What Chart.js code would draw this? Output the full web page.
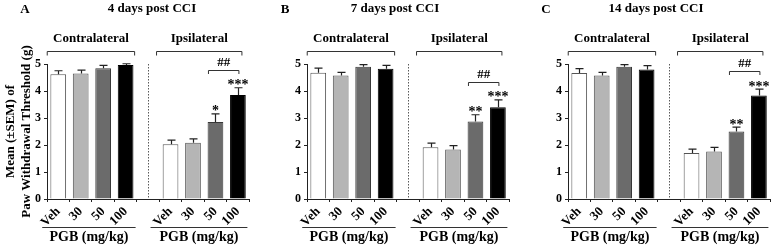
<!DOCTYPE html>
<html><head><meta charset="utf-8">
<script src="https://cdn.jsdelivr.net/npm/chart.js@4.4.0/dist/chart.umd.min.js"></script>
<style>
html,body{margin:0;padding:0;background:#fff;overflow:hidden;width:772px;height:247px;}
.panel{position:absolute;top:0;width:251px;height:247px;}
canvas{display:block;}
</style></head><body>
<div class="panel" style="left:0px"><canvas id="cA" width="251" height="247"></canvas></div>
<div class="panel" style="left:260px"><canvas id="cB" width="251" height="247"></canvas></div>
<div class="panel" style="left:521px"><canvas id="cC" width="251" height="247"></canvas></div>
<script>
// ---------- data ----------
const doses = ['Veh', '30', '50', '100'];
const groupLabels = ['Contralateral', 'Ipsilateral'];
const xAxisTitle = 'PGB (mg/kg)';
const yAxisTitle = ['Mean (\u00B1SEM) of', 'Paw Withdrawal Threshold (g)'];
const yTicks = [0, 1, 2, 3, 4, 5];
const panelLetters = ['A', 'B', 'C'];
const panelTitles = ['4 days post CCI', '7 days post CCI', '14 days post CCI'];
const hashLabel = '##';

const day4ContraMean = [4.62, 4.65, 4.84, 4.96];
const day4ContraSem  = [0.13, 0.12, 0.11, 0.05];
const day4IpsiMean   = [2.03, 2.08, 2.85, 3.85];
const day4IpsiSem    = [0.15, 0.15, 0.30, 0.27];
const day4IpsiStars  = ['', '', '*', '***'];

const day7ContraMean = [4.68, 4.57, 4.90, 4.82];
const day7ContraSem  = [0.17, 0.12, 0.08, 0.13];
const day7IpsiMean   = [1.92, 1.83, 2.87, 3.40];
const day7IpsiSem    = [0.15, 0.15, 0.25, 0.27];
const day7IpsiStars  = ['', '', '**', '***'];

const day14ContraMean = [4.67, 4.57, 4.90, 4.80];
const day14ContraSem  = [0.16, 0.12, 0.08, 0.14];
const day14IpsiMean   = [1.70, 1.76, 2.50, 3.83];
const day14IpsiSem    = [0.15, 0.15, 0.16, 0.24];
const day14IpsiStars  = ['', '', '**', '***'];

// ---------- styling ----------
const FONT = '"Liberation Serif", "Times New Roman", serif';
const barFill = ['#ffffff', '#b5b5b5', '#6b6b6b', '#000000'];
const barEdge = ['#555555', '#555555', '#383838', '#000000'];

const decor = {
  id: 'decor',
  afterDraw(chart) {
    const o = chart.options.plugins.decor;
    const ctx = chart.ctx, xs = chart.scales.x, ys = chart.scales.y, a = chart.chartArea;
    const ds = chart.data.datasets[0];
    const X = i => xs.getPixelForValue(i);
    ctx.save();
    // separator
    const xm = Math.round(X(4)) + 0.5;
    ctx.strokeStyle = '#5a5a5a'; ctx.lineWidth = 1; ctx.setLineDash([1.5, 1.5]);
    ctx.beginPath(); ctx.moveTo(xm, a.top); ctx.lineTo(xm, a.bottom); ctx.stroke();
    ctx.setLineDash([]);
    // error bars and stars
    const meta = chart.getDatasetMeta(0);
    const tops = [];
    meta.data.forEach((bar, i) => {
      const v = ds.data[i];
      if (v == null) return;
      const top = ys.getPixelForValue(v + ds.sem[i]);
      tops[i] = top;
      const x = Math.round(bar.x) + 0.5;
      ctx.strokeStyle = '#222'; ctx.lineWidth = 1.2;
      ctx.beginPath();
      ctx.moveTo(x, bar.y); ctx.lineTo(x, top);
      ctx.moveTo(x - 4, top); ctx.lineTo(x + 4, top);
      ctx.stroke();
      if (ds.stars[i]) {
        ctx.fillStyle = '#000'; ctx.font = 'bold 14px ' + FONT;
        ctx.textAlign = 'center'; ctx.textBaseline = 'alphabetic';
        ctx.fillText(ds.stars[i], bar.x, top + 1.5);
      }
    });
    // ## bracket between 50 and 100 (ipsilateral)
    const by = Math.round(tops[8] - 18) + 0.5;
    const bx1 = X(7) - 7, bx2 = X(8) + 1;
    ctx.strokeStyle = '#333'; ctx.lineWidth = 1;
    ctx.beginPath();
    ctx.moveTo(bx1, by + 3.5); ctx.lineTo(bx1, by); ctx.lineTo(bx2, by); ctx.lineTo(bx2, by + 3.5);
    ctx.stroke();
    ctx.fillStyle = '#000'; ctx.font = 'bold 13px ' + FONT;
    ctx.textAlign = 'center'; ctx.textBaseline = 'middle';
    ctx.fillText(hashLabel, (bx1 + bx2) / 2, by - 8);
    // group brackets above
    const gy = Math.round(a.top - 13) + 0.5;
    const groups = [[X(0) - 11, X(3) + 9], [X(5) - 14, X(8) + 4]];
    groups.forEach((g, k) => {
      ctx.strokeStyle = '#333'; ctx.lineWidth = 1;
      ctx.beginPath();
      ctx.moveTo(g[0], gy + 4); ctx.lineTo(g[0], gy); ctx.lineTo(g[1], gy); ctx.lineTo(g[1], gy + 4);
      ctx.stroke();
      ctx.fillStyle = '#000'; ctx.font = 'bold 13px ' + FONT;
      ctx.textAlign = 'center'; ctx.textBaseline = 'middle';
      ctx.fillText(groupLabels[k], (g[0] + g[1]) / 2, a.top - 25);
    });
    // x-axis group titles with underline
    const uy = Math.round(a.bottom + 27.5) + 0.5;
    const unders = [[X(0) - 16, X(3) + 10], [X(5) - 20, X(8) + 9.5]];
    unders.forEach(u => {
      ctx.strokeStyle = '#333'; ctx.lineWidth = 1;
      ctx.beginPath(); ctx.moveTo(u[0], uy); ctx.lineTo(u[1], uy); ctx.stroke();
      ctx.fillStyle = '#000'; ctx.font = 'bold 14px ' + FONT;
      ctx.textAlign = 'center'; ctx.textBaseline = 'middle';
      ctx.fillText(xAxisTitle, (u[0] + u[1]) / 2, a.bottom + 38.5);
    });
    // panel letter and title
    ctx.fillStyle = '#000';
    ctx.font = 'bold 13px ' + FONT; ctx.textAlign = 'center'; ctx.textBaseline = 'middle';
    ctx.fillText(o.letter, a.left - 22, 10);
    ctx.fillText(o.title, a.left + o.titleOffset, 9);
    ctx.restore();
  }
};

function makePanel(id, idx, cMean, cSem, iMean, iSem, iStars, showYTitle, titleOffset) {
  const labels = [...doses, '', ...doses];
  const data = [...cMean, null, ...iMean];
  const sem = [...cSem, null, ...iSem];
  const stars = ['', '', '', '', '', ...iStars];
  const bg = [...barFill, '#fff', ...barFill];
  const bd = [...barEdge, '#fff', ...barEdge];
  new Chart(document.getElementById(id), {
    type: 'bar',
    data: {
      labels,
      datasets: [{ data, sem, stars, backgroundColor: bg, borderColor: bd, borderWidth: 1,
        barPercentage: 0.7, categoryPercentage: 1.0 }]
    },
    options: {
      responsive: false, animation: false, devicePixelRatio: 1,
      layout: { padding: { top: 64, right: 1, left: 0, bottom: 0 } },
      plugins: {
        legend: { display: false }, tooltip: { enabled: false }, title: { display: false },
        decor: { letter: panelLetters[idx], title: panelTitles[idx], titleOffset }
      },
      scales: {
        x: {
          type: 'category',
          offset: true,
          grid: { display: true, drawOnChartArea: false, drawTicks: true, tickLength: 3, color: '#222', tickWidth: 1 },
          border: { display: true, color: '#222', width: 1 },
          ticks: { autoSkip: false, minRotation: 45, maxRotation: 45, padding: 2, color: '#000',
            font: { family: FONT, size: 13, weight: 'bold' } },
          afterFit: s => { s.height = 48; }
        },
        y: {
          min: 0, max: 5,
          afterBuildTicks: s => { s.ticks = yTicks.map(v => ({ value: v })); },
          grid: { display: true, drawOnChartArea: false, drawTicks: true, tickLength: 3, color: '#222' },
          border: { display: true, color: '#222', width: 1 },
          ticks: { padding: 3, color: '#000', font: { family: FONT, size: 12, weight: 'bold' } },
          title: { display: showYTitle, text: yAxisTitle, color: '#000', padding: { top: 3, bottom: 0 },
            font: { family: FONT, size: 13, weight: 'bold', lineHeight: 1.2 } },
          afterFit: s => { s.width = 47; }
        }
      }
    },
    plugins: [decor]
  });
}

makePanel('cA', 0, day4ContraMean, day4ContraSem, day4IpsiMean, day4IpsiSem, day4IpsiStars, true, 105);
makePanel('cB', 1, day7ContraMean, day7ContraSem, day7IpsiMean, day7IpsiSem, day7IpsiStars, false, 88);
makePanel('cC', 2, day14ContraMean, day14ContraSem, day14IpsiMean, day14IpsiSem, day14IpsiStars, false, 88);
</script>
</body></html>
